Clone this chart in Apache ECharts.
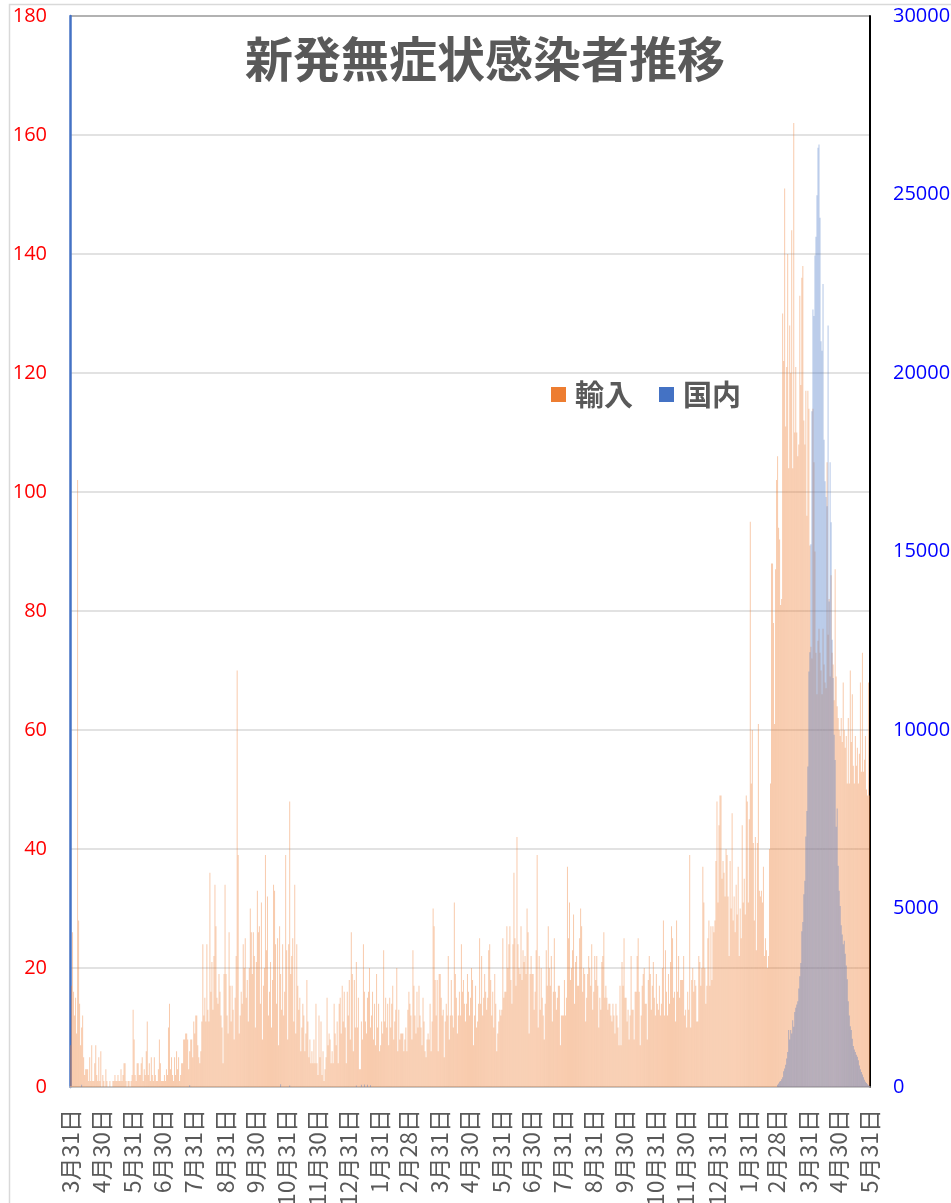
<!DOCTYPE html>
<html>
<head>
<meta charset="utf-8">
<title>新発無症状感染者推移</title>
<script src="https://cdn.jsdelivr.net/npm/echarts@6/dist/echarts.min.js"></script>
<style>
  html, body { margin: 0; padding: 0; background: #fff; }
  #chart { width: 951px; height: 1203px; }
</style>
</head>
<body>
<div id="chart"></div>
<script>
// 輸入 (imported, left axis) - daily values per month
const imp2020_03 = [7]
const imp2020_04 = [17, 26, 16, 12, 15, 9, 102, 28, 14, 7, 10, 12, 5, 2, 3, 3, 3, 1, 5, 1, 7, 1, 1, 4, 7, 2, 1, 5, 1, 6]
const imp2020_05 = [0, 2, 1, 0, 3, 1, 0, 0, 1, 0, 0, 1, 1, 2, 1, 1, 2, 1, 1, 3, 1, 2, 4, 4, 1, 0, 1, 1, 0, 1, 2]
const imp2020_06 = [13, 8, 2, 1, 4, 4, 2, 2, 4, 5, 1, 3, 2, 6, 11, 2, 4, 1, 5, 2, 1, 5, 2, 1, 1, 3, 8, 4, 1, 1]
const imp2020_07 = [1, 2, 1, 3, 2, 10, 14, 3, 5, 2, 1, 5, 2, 6, 3, 5, 1, 2, 4, 4, 8, 8, 9, 9, 8, 3, 6, 8, 8, 5, 11]
const imp2020_08 = [9, 12, 12, 7, 5, 4, 6, 11, 24, 12, 15, 11, 24, 13, 11, 36, 16, 21, 13, 22, 34, 27, 15, 14, 19, 16, 12, 10, 4, 19, 34]
const imp2020_09 = [19, 12, 9, 26, 17, 11, 17, 13, 8, 15, 22, 70, 39, 9, 12, 16, 14, 24, 20, 25, 15, 18, 11, 20, 30, 26, 19, 26, 22, 10]
const imp2020_10 = [21, 33, 26, 27, 14, 31, 8, 17, 20, 39, 23, 32, 12, 16, 21, 10, 18, 34, 33, 24, 14, 25, 7, 27, 19, 13, 24, 12, 16, 39, 23]
const imp2020_11 = [8, 24, 48, 19, 22, 25, 11, 34, 9, 24, 17, 13, 15, 6, 10, 14, 12, 6, 9, 18, 11, 5, 8, 4, 6, 4, 8, 4, 14, 4]
const imp2020_12 = [2, 12, 5, 11, 2, 6, 1, 3, 5, 15, 7, 9, 8, 4, 6, 4, 14, 9, 7, 11, 4, 14, 15, 9, 17, 11, 16, 10, 4, 16, 12]
const imp2021_01 = [18, 8, 26, 19, 6, 18, 10, 21, 10, 15, 3, 3, 11, 8, 24, 16, 11, 9, 15, 16, 20, 10, 12, 16, 8, 14, 7, 19, 10, 14, 6]
const imp2021_02 = [7, 11, 9, 23, 11, 15, 10, 14, 7, 15, 10, 14, 17, 8, 11, 13, 20, 6, 13, 8, 9, 9, 9, 6, 8, 10, 6, 13]
const imp2021_03 = [16, 14, 12, 8, 23, 17, 12, 9, 16, 10, 17, 12, 10, 7, 15, 11, 6, 5, 8, 9, 8, 14, 6, 11, 30, 27, 18, 12, 18, 6, 19]
const imp2021_04 = [19, 15, 12, 13, 5, 11, 14, 12, 22, 8, 12, 18, 12, 10, 31, 19, 15, 9, 12, 16, 12, 24, 16, 18, 14, 11, 14, 19, 16, 12]
const imp2021_05 = [15, 20, 18, 7, 12, 17, 10, 11, 14, 25, 14, 22, 12, 15, 19, 16, 13, 15, 23, 24, 18, 12, 16, 10, 19, 14, 6, 9, 11, 13, 12]
const imp2021_06 = [13, 25, 15, 16, 16, 27, 20, 24, 27, 18, 14, 24, 36, 25, 17, 42, 24, 20, 19, 27, 18, 23, 21, 22, 19, 30, 26, 9, 19, 22]
const imp2021_07 = [19, 19, 13, 16, 23, 39, 10, 22, 13, 20, 15, 12, 8, 14, 23, 17, 27, 20, 17, 22, 11, 16, 25, 16, 13, 15, 17, 17, 7, 12, 12]
const imp2021_08 = [12, 18, 12, 15, 37, 25, 31, 18, 20, 23, 29, 14, 21, 22, 17, 17, 25, 30, 27, 16, 20, 19, 11, 15, 19, 22, 20, 17, 24, 13, 16]
const imp2021_09 = [22, 18, 22, 17, 10, 15, 13, 21, 22, 26, 15, 17, 15, 13, 14, 14, 12, 11, 14, 12, 9, 14, 12, 10, 7, 17, 7, 21, 17, 25]
const imp2021_10 = [15, 15, 11, 13, 8, 12, 22, 13, 13, 8, 16, 16, 22, 25, 16, 7, 12, 17, 19, 20, 14, 14, 8, 18, 22, 19, 13, 17, 21, 15, 12]
const imp2021_11 = [19, 14, 13, 17, 12, 14, 20, 28, 12, 23, 16, 12, 19, 14, 21, 27, 25, 15, 16, 11, 28, 16, 22, 15, 18, 18, 18, 22, 12, 13]
const imp2021_12 = [10, 16, 13, 39, 10, 18, 20, 16, 18, 17, 11, 11, 22, 21, 17, 20, 37, 31, 20, 14, 17, 25, 28, 17, 27, 18, 27, 26, 28, 38, 48]
const imp2022_01 = [31, 44, 49, 49, 35, 38, 36, 32, 40, 39, 32, 22, 38, 30, 46, 28, 32, 26, 34, 29, 37, 22, 30, 25, 44, 31, 35, 29, 49, 48, 31]
const imp2022_02 = [45, 95, 51, 60, 41, 28, 42, 23, 41, 61, 33, 32, 33, 31, 37, 22, 25, 23, 20, 22, 40, 51, 88, 88, 78, 61, 87, 102]
const imp2022_03 = [106, 94, 92, 81, 82, 130, 122, 151, 111, 121, 140, 104, 128, 120, 144, 104, 162, 110, 121, 110, 106, 108, 133, 118, 136, 138, 112, 108, 117, 96, 117]
const imp2022_04 = [114, 91, 74, 72, 114, 105, 90, 73, 66, 75, 77, 73, 70, 66, 77, 71, 68, 67, 105, 76, 82, 69, 86, 73, 71, 65, 87, 69, 64, 62]
const imp2022_05 = [60, 59, 62, 58, 68, 60, 57, 59, 51, 62, 51, 70, 58, 66, 54, 51, 59, 54, 57, 51, 56, 68, 53, 73, 53, 55, 59, 50, 49, 68, 49]

// 国内 (domestic, right axis)
const domEarlyDates = ['2020-04-11', '2020-07-27', '2020-10-25', '2020-11-03', '2021-01-08', '2021-01-13', '2021-01-16', '2021-01-19', '2021-01-22']
const domEarlyValues = [60, 50, 80, 40, 40, 60, 70, 60, 50]
const domWaveStart = '2022-03-01'
const dom2022_03 = [60, 100, 150, 170, 220, 270, 440, 520, 620, 800, 980, 1600, 1330, 1600, 1500, 1870, 1690, 2100, 2220, 2310, 2400, 2760, 3100, 3470, 4360, 4620, 5400, 5780, 7020, 7730, 8980]
const dom2022_04 = [11640, 12180, 15200, 18930, 21780, 21600, 23290, 23820, 24980, 26310, 26400, 24350, 20890, 20620, 22490, 18130, 16970, 16530, 16270, 21330, 13600, 17500, 15820, 12530, 11460, 9870, 9160, 7290, 7800, 6200]
const dom2022_05 = [5500, 5070, 4530, 4270, 4000, 4100, 3730, 3400, 3020, 2400, 2000, 1700, 1600, 1350, 1150, 1050, 980, 900, 850, 750, 600, 500, 420, 350, 270, 200, 150, 110, 80, 50, 30]

const firstDay = '2020-03-31'
const lastDay = '2022-05-31'

// daily categories
const dates = []
for (let t = Date.parse(firstDay); t <= Date.parse(lastDay); t += 86400000) {
  dates.push(new Date(t).toISOString().slice(0, 10))
}

const imported = [].concat(
  imp2020_03, imp2020_04, imp2020_05, imp2020_06, imp2020_07, imp2020_08, imp2020_09,
  imp2020_10, imp2020_11, imp2020_12, imp2021_01, imp2021_02, imp2021_03, imp2021_04,
  imp2021_05, imp2021_06, imp2021_07, imp2021_08, imp2021_09, imp2021_10, imp2021_11,
  imp2021_12, imp2022_01, imp2022_02, imp2022_03, imp2022_04, imp2022_05
)
if (imported.length !== dates.length) console.error('length mismatch', imported.length, dates.length)

const domWave = [].concat(dom2022_03, dom2022_04, dom2022_05)
const waveIdx = dates.indexOf(domWaveStart)
const domestic = domEarlyDates.map((d, i) => [d, domEarlyValues[i]])
  .concat(domWave.map((v, i) => [dates[waveIdx + i], v]))

const isMonthEnd = (d) => {
  const next = new Date(Date.parse(d) + 86400000)
  return next.getUTCDate() === 1
}
const fmtDate = (d) => {
  const p = d.split('-')
  return (+p[1]) + '月' + (+p[2]) + '日'
}

const GRAY = '#595959'
const jp = "'Noto Sans CJK JP', sans-serif"
const num = "'Open Sans', 'Noto Sans', sans-serif"

const chart = echarts.init(document.getElementById('chart'))
chart.setOption({
  animation: false,
  title: {
    text: '新発無症状感染者推移',
    left: 240,
    top: 30,
    textStyle: { color: GRAY, fontSize: 48, fontWeight: 'bold', fontFamily: jp }
  },
  legend: {
    left: 546,
    top: 375,
    itemWidth: 15,
    itemHeight: 15,
    itemGap: 26,
    icon: 'rect',
    textStyle: { color: GRAY, fontSize: 29, fontWeight: 'bold', fontFamily: jp, padding: [0, 0, 0, 4] },
    data: [
      { name: '輸入', itemStyle: { color: '#ED7D31', opacity: 1 } },
      { name: '国内', itemStyle: { color: '#4472C4', opacity: 1 } }
    ]
  },
  grid: { left: 70, right: 81, top: 16, bottom: 116, outerBoundsMode: 'none' },
  xAxis: {
    type: 'category',
    data: dates,
    axisLine: { lineStyle: { color: '#BFBFBF', width: 1.5 } },
    axisTick: {
      alignWithLabel: true,
      length: 6,
      interval: (i, v) => isMonthEnd(v),
      lineStyle: { color: '#BFBFBF', width: 1.5 }
    },
    axisLabel: {
      interval: (i, v) => isMonthEnd(v),
      rotate: 90,
      margin: 22,
      color: GRAY,
      fontSize: 23,
      fontFamily: jp,
      formatter: fmtDate
    }
  },
  yAxis: [
    {
      type: 'value',
      min: 0, max: 180, interval: 20,
      axisLine: { show: true, lineStyle: { color: '#4472C4', width: 2.5 } },
      axisTick: { show: false },
      axisLabel: { color: '#FF0000', fontSize: 20, fontFamily: num, margin: 23 },
      splitLine: { lineStyle: { color: '#D9D9D9', width: 1.5 } }
    },
    {
      type: 'value',
      min: 0, max: 30000, interval: 5000,
      axisLine: { show: true, lineStyle: { color: '#000', width: 2 } },
      axisTick: { show: false },
      axisLabel: { color: '#0000FF', fontSize: 20, fontFamily: num, margin: 23, formatter: (v) => String(v) },
      splitLine: { show: false }
    }
  ],
  series: [
    {
      name: '輸入',
      type: 'bar',
      yAxisIndex: 0,
      data: imported,
      barCategoryGap: '0%',
      barGap: '-100%',
      itemStyle: { color: '#ED7D31', opacity: 0.4 },
      emphasis: { disabled: true }
    },
    {
      name: '国内',
      type: 'bar',
      yAxisIndex: 1,
      data: domestic,
      barCategoryGap: '0%',
      barGap: '-100%',
      itemStyle: { color: '#4472C4', opacity: 0.4 },
      emphasis: { disabled: true }
    }
  ],
  graphic: [
    // outer chart frame
    { type: 'rect', left: 7, top: 2, shape: { width: 1100, height: 1400 }, style: { fill: null, stroke: '#D9D9D9', lineWidth: 1.5 }, silent: true },
    // plot area top border
    { type: 'line', shape: { x1: 70, y1: 16, x2: 870, y2: 16 }, style: { stroke: '#000', lineWidth: 1.5 }, silent: true }
  ]
})
</script>
</body>
</html>
